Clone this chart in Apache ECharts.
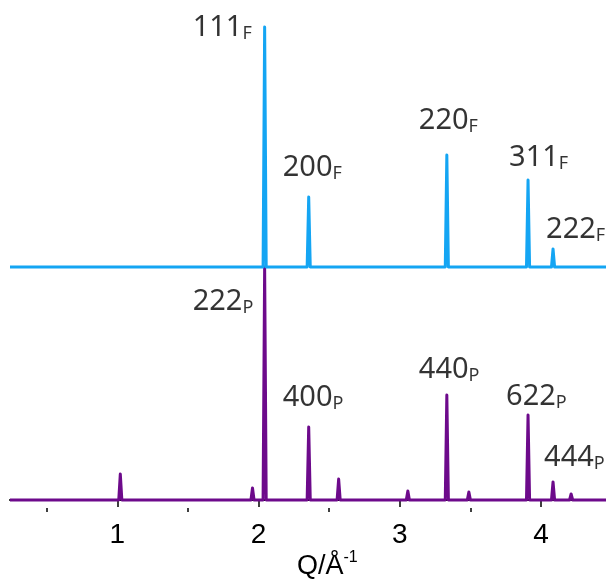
<!DOCTYPE html>
<html>
<head>
<meta charset="utf-8">
<script src="https://cdn.jsdelivr.net/npm/echarts@6/dist/echarts.min.js"></script>
<style>
html,body{margin:0;padding:0;background:#fff;}
#c{width:606px;height:579px;}
</style>
</head>
<body>
<div id="c"></div>
<script>
// ---- data ----
const qMin = 0.24, qMax = 4.46;
const majorTicks = [1, 2, 3, 4];
const minorTicks = [0.5, 1.5, 2.5, 3.5];
// F phase (blue, upper trace) peak positions (Q, 1/Å) and intensities (a.u.)
const fPeakQ = [2.043, 2.355, 3.333, 3.908, 4.085];
const fPeakI = [240, 70, 112, 87, 18];
const fOffset = 233;
// P phase (purple, lower trace)
const pPeakQ = [1.021, 1.957, 2.043, 2.355, 2.567, 2.88, 3.057, 3.333, 3.489, 3.85, 3.908, 4.085, 4.213];
const pPeakI = [26, 12, 233, 73, 21, 2, 9, 105, 8, 2, 85, 18, 6];
// labels
const fLabelText = ['111', '200', '220', '311', '222'];
const fLabelPeak = [0, 1, 2, 3, 4];
const pLabelText = ['222', '400', '440', '622', '444'];
const pLabelPeak = [2, 3, 7, 10, 11];

// ---- styles ----
const blue = '#14a5f3';
const purple = '#6d0a8b';
const fLabelOffset = [[-72, 1], [-26, -29], [-28, -34], [-19, -22], [-7, -19]];
const pLabelOffset = [[-72, 35], [-26, -29], [-28, -25], [-22, -18], [-9, -24]];
const halfW = 0.011;

function profile(qs, is, off) {
  const pts = [[qMin, off]];
  const order = qs.map((q, i) => i).sort((a, b) => qs[a] - qs[b]);
  order.forEach(i => {
    pts.push([qs[i] - halfW, off]);
    pts.push([qs[i], off + is[i]]);
    pts.push([qs[i] + halfW, off]);
  });
  pts.push([qMax, off]);
  return pts;
}

function labelData(texts, idx, qs, is, off, offsets, sub) {
  return texts.map((t, k) => ({
    value: [qs[idx[k]], off + is[idx[k]]],
    label: {
      formatter: '{m|' + t + '}{s|' + sub + '}',
      offset: offsets[k]
    }
  }));
}

const labelStyle = {
  show: true,
  position: 'inside',
  align: 'left',
  verticalAlign: 'middle',
  color: '#000',
  textBorderWidth: 0,
  rich: {
    m: { fontFamily: 'Noto Sans', fontSize: 29, lineHeight: 30, color: '#000', textBorderWidth: 0, verticalAlign: 'middle' },
    s: { fontFamily: 'Noto Sans', fontSize: 18, lineHeight: 8, color: '#000', textBorderWidth: 0, verticalAlign: 'bottom' }
  }
};

const chart = echarts.init(document.getElementById('c'), null, { renderer: 'canvas' });
chart.setOption({
  animation: false,
  backgroundColor: '#fff',
  grid: { left: 10, right: 0, top: 0, bottom: 71, containLabel: false },
  xAxis: [
    {
      type: 'value', min: qMin, max: qMax, position: 'bottom',
      axisLine: { show: true, lineStyle: { color: '#000', width: 2 } },
      axisTick: { show: true, customValues: majorTicks, length: 7, lineStyle: { color: '#000', width: 1.5 } },
      axisLabel: { show: true, customValues: majorTicks, fontFamily: 'Liberation Sans', fontSize: 28, color: '#000', margin: 13 },
      splitLine: { show: false }
    },
    {
      type: 'value', min: qMin, max: qMax, position: 'bottom',
      axisLine: { show: false },
      axisTick: { show: true, customValues: minorTicks, length: 4, lineStyle: { color: '#000', width: 1.5 } },
      axisLabel: { show: false },
      splitLine: { show: false }
    }
  ],
  yAxis: { type: 'value', min: -8, max: 500, show: false },
  graphic: [{
    type: 'text', left: 297, top: 550,
    style: {
      text: '{q|Q/Å}{e|-1}',
      rich: {
        q: { fontFamily: 'Liberation Sans', fontSize: 27, lineHeight: 30, fill: '#000', verticalAlign: 'bottom' },
        e: { fontFamily: 'Liberation Sans', fontSize: 16, lineHeight: 30, fill: '#000', verticalAlign: 'top' }
      }
    }
  }],
  series: [
    {
      type: 'line', data: profile(pPeakQ, pPeakI, 0), showSymbol: false, smooth: false,
      lineStyle: { color: purple, width: 3, join: 'round' }, z: 2
    },
    {
      type: 'line', data: profile(fPeakQ, fPeakI, fOffset), showSymbol: false, smooth: false,
      lineStyle: { color: blue, width: 3, join: 'round' }, z: 3
    },
    {
      type: 'scatter', symbolSize: 1, itemStyle: { color: 'rgba(0,0,0,0)' }, z: 5,
      data: labelData(fLabelText, fLabelPeak, fPeakQ, fPeakI, fOffset, fLabelOffset, 'F')
        .concat(labelData(pLabelText, pLabelPeak, pPeakQ, pPeakI, 0, pLabelOffset, 'P')),
      label: labelStyle,
      emphasis: { disabled: true }
    }
  ]
});
</script>
</body>
</html>
